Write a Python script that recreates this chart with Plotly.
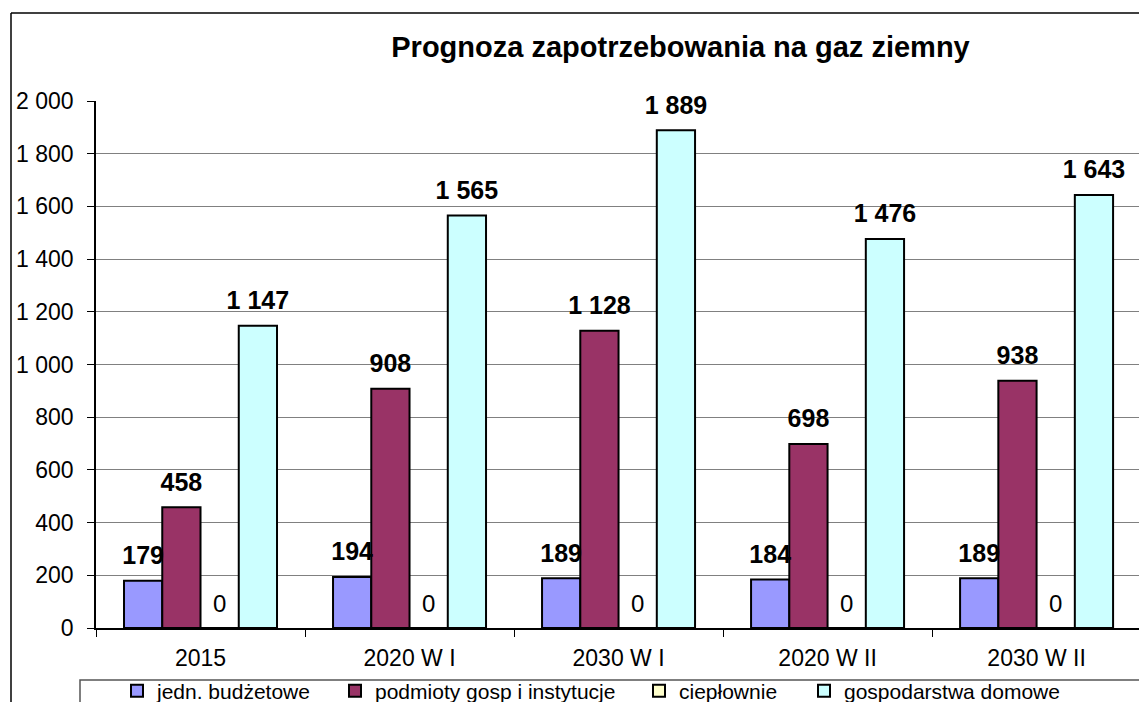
import plotly.graph_objects as go

categories = ["2015", "2020 W I", "2030 W I", "2020 W II", "2030 W II"]
jedn_budzetowe = [179, 194, 189, 184, 189]
podmioty_gosp = [458, 908, 1128, 698, 938]
cieplownie = [0, 0, 0, 0, 0]
gospodarstwa_domowe = [1147, 1565, 1889, 1476, 1643]
series_names = ["jedn. budżetowe", "podmioty gosp i instytucje", "ciepłownie", "gospodarstwa domowe"]
series_colors = ["#9999FF", "#993366", "#FFFFCC", "#CCFFFF"]
y_ticks = list(range(0, 2001, 200))
title_text = "Prognoza zapotrzebowania na gaz ziemny"


def fmt(v):
    return f"{v:,}".replace(",", " ")


FONT = "Liberation Sans, Arial, Helvetica, sans-serif"
W, H = 1139, 702
L, R, T, B = 96, 0, 101, 74
pw = W - L - R
ph = H - T - B
GAP = 0.268


def px_x(px):
    return (px - L) / pw


def px_y(py):
    return (H - B - py) / ph


legend_text_starts = [157, 375, 679, 844]
legend_ids = ["legend", "legend2", "legend3", "legend4"]

fig = go.Figure()
all_series = [jedn_budzetowe, podmioty_gosp, cieplownie, gospodarstwa_domowe]
for i, (name, vals, col) in enumerate(zip(series_names, all_series, series_colors)):
    fig.add_trace(go.Bar(
        x=categories, y=vals, name=name,
        marker=dict(color=col, line=dict(color="#000000", width=2)),
        offsetgroup=str(i), alignmentgroup="a",
        legend=legend_ids[i],
        hovertemplate="%{x}: %{y}<extra>" + name + "</extra>",
    ))

for i, vals in enumerate(all_series):
    bold = any(v > 0 for v in vals)
    fig.add_trace(go.Scatter(
        x=categories, y=vals, mode="markers+text",
        marker=dict(size=15, opacity=0, color="#000000"),
        text=[("<b>%s</b>" % fmt(v)) if bold else fmt(v) for v in vals],
        textposition="top center",
        textfont=dict(family=FONT, size=25 if bold else 24, color="#000000"),
        offsetgroup=str(i), alignmentgroup="a",
        showlegend=False, hoverinfo="skip", cliponaxis=False,
    ))

shapes = [
    dict(type="line", xref="paper", yref="paper", x0=px_x(11), x1=px_x(1160), y0=px_y(13), y1=px_y(13),
         line=dict(color="#000000", width=1.5)),
    dict(type="line", xref="paper", yref="paper", x0=px_x(11), x1=px_x(11), y0=px_y(13), y1=px_y(720),
         line=dict(color="#000000", width=1.5)),
    dict(type="rect", xref="paper", yref="paper", x0=px_x(80), x1=px_x(1160), y0=px_y(680), y1=px_y(720),
         line=dict(color="#555555", width=1.5), fillcolor="rgba(0,0,0,0)"),
]

legends = {}
for lid, xs in zip(legend_ids, legend_text_starts):
    legends[lid] = dict(orientation="h", x=px_x(xs - 40), xanchor="left", y=px_y(691), yanchor="middle",
                        font=dict(family=FONT, size=21, color="#000000"), bgcolor="rgba(0,0,0,0)",
                        itemwidth=30, borderwidth=0)

fig.update_layout(
    width=W, height=H,
    margin=dict(l=L, r=R, t=T, b=B, pad=0, autoexpand=False),
    paper_bgcolor="#FFFFFF", plot_bgcolor="#FFFFFF",
    barmode="group", bargap=GAP, bargroupgap=0,
    scattermode="group", scattergap=GAP,
    font=dict(family=FONT, size=23, color="#000000"),
    title=dict(text="<b>%s</b>" % title_text, x=680.5 / W, xanchor="center", y=1 - 47 / H, yanchor="middle",
               font=dict(family=FONT, size=29, color="#000000")),
    showlegend=True,
    shapes=shapes,
    xaxis=dict(range=[-0.5, 4.49], showline=True, linecolor="#000000", linewidth=1.5,
               ticks="outside", tickson="boundaries", ticklen=7, tickcolor="#000000",
               ticklabelstandoff=9,
               tickfont=dict(family=FONT, size=23), showgrid=False, fixedrange=True),
    yaxis=dict(range=[0, 2000], tickvals=y_ticks, ticktext=[fmt(v) for v in y_ticks],
               showline=True, linecolor="#000000", linewidth=1.5,
               ticks="outside", ticklen=7, tickcolor="#000000", ticklabelstandoff=9,
               showgrid=True, gridcolor="#808080", gridwidth=1.2, zeroline=False,
               tickfont=dict(family=FONT, size=23), fixedrange=True),
    **legends,
)

fig.write_html("out.html", config={"displayModeBar": False},
               post_script=("document.body.style.margin='0px';"
                            "document.body.style.overflow='hidden';"
                            "document.documentElement.style.overflow='hidden';"))
